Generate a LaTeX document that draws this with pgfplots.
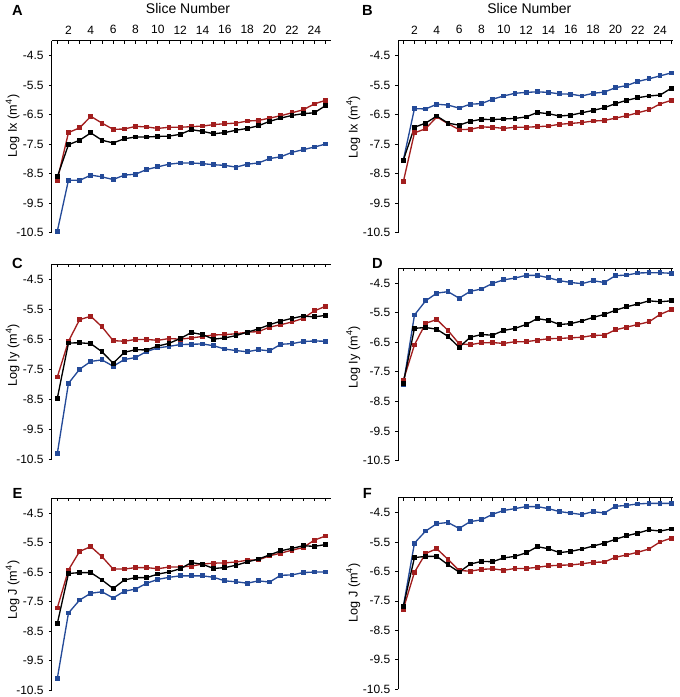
\documentclass[border=0pt]{standalone}
\usepackage{fontspec}
\setmainfont{Liberation Sans}
\usepackage{pgfplots}
\usepackage{pgfplotstable}
\pgfplotsset{compat=1.18}
\definecolor{cred}{RGB}{162,30,30}
\definecolor{cblue}{RGB}{36,74,152}

\pgfplotstableread{
x red black blue
1 -8.72 -8.61 -10.45
2 -7.11 -7.52 -8.72
3 -6.95 -7.37 -8.73
4 -6.56 -7.12 -8.55
5 -6.79 -7.37 -8.61
6 -7.00 -7.46 -8.70
7 -6.99 -7.32 -8.55
8 -6.90 -7.26 -8.52
9 -6.92 -7.26 -8.36
10 -6.97 -7.24 -8.27
11 -6.93 -7.23 -8.18
12 -6.93 -7.17 -8.14
13 -6.91 -7.01 -8.14
14 -6.89 -7.07 -8.16
15 -6.84 -7.15 -8.20
16 -6.81 -7.11 -8.22
17 -6.79 -7.03 -8.28
18 -6.72 -6.97 -8.18
19 -6.70 -6.88 -8.14
20 -6.62 -6.73 -7.99
21 -6.54 -6.62 -7.93
22 -6.44 -6.53 -7.78
23 -6.34 -6.47 -7.69
24 -6.14 -6.44 -7.60
25 -6.02 -6.20 -7.50
}\dataA
\pgfplotstableread{
x red black blue
1 -8.78 -8.05 -8.05
2 -7.12 -6.93 -6.30
3 -6.98 -6.79 -6.31
4 -6.58 -6.55 -6.15
5 -6.81 -6.79 -6.18
6 -7.01 -6.86 -6.28
7 -7.00 -6.73 -6.15
8 -6.92 -6.66 -6.13
9 -6.93 -6.67 -5.98
10 -6.97 -6.65 -5.87
11 -6.93 -6.63 -5.78
12 -6.93 -6.58 -5.75
13 -6.91 -6.43 -5.73
14 -6.89 -6.47 -5.75
15 -6.83 -6.55 -5.80
16 -6.80 -6.52 -5.81
17 -6.77 -6.44 -5.87
18 -6.72 -6.36 -5.78
19 -6.70 -6.27 -5.74
20 -6.62 -6.13 -5.59
21 -6.54 -6.02 -5.52
22 -6.44 -5.93 -5.38
23 -6.34 -5.87 -5.29
24 -6.14 -5.84 -5.19
25 -6.02 -5.61 -5.09
}\dataB
\pgfplotstableread{
x red black blue
1 -7.75 -8.46 -10.30
2 -6.56 -6.62 -7.96
3 -5.84 -6.61 -7.49
4 -5.73 -6.64 -7.23
5 -6.08 -6.91 -7.18
6 -6.54 -7.29 -7.39
7 -6.56 -6.93 -7.17
8 -6.50 -6.84 -7.10
9 -6.50 -6.85 -6.90
10 -6.53 -6.72 -6.78
11 -6.47 -6.63 -6.73
12 -6.49 -6.47 -6.67
13 -6.45 -6.27 -6.66
14 -6.40 -6.34 -6.65
15 -6.35 -6.49 -6.71
16 -6.34 -6.45 -6.82
17 -6.31 -6.37 -6.87
18 -6.26 -6.26 -6.91
19 -6.24 -6.15 -6.84
20 -6.09 -6.01 -6.88
21 -6.01 -5.89 -6.66
22 -5.92 -5.80 -6.64
23 -5.80 -5.72 -6.57
24 -5.55 -5.75 -6.55
25 -5.40 -5.70 -6.56
}\dataC
\pgfplotstableread{
x red black blue
1 -7.79 -7.88 -7.94
2 -6.59 -6.03 -5.58
3 -5.86 -6.00 -5.10
4 -5.73 -6.06 -4.84
5 -6.10 -6.30 -4.79
6 -6.55 -6.67 -5.01
7 -6.58 -6.33 -4.78
8 -6.52 -6.24 -4.70
9 -6.51 -6.26 -4.51
10 -6.54 -6.10 -4.39
11 -6.48 -6.03 -4.33
12 -6.48 -5.90 -4.24
13 -6.43 -5.70 -4.24
14 -6.38 -5.76 -4.32
15 -6.37 -5.90 -4.42
16 -6.35 -5.87 -4.48
17 -6.33 -5.78 -4.52
18 -6.27 -5.66 -4.42
19 -6.26 -5.56 -4.48
20 -6.08 -5.42 -4.25
21 -5.99 -5.30 -4.23
22 -5.90 -5.21 -4.16
23 -5.81 -5.10 -4.15
24 -5.56 -5.13 -4.15
25 -5.40 -5.10 -4.17
}\dataD
\pgfplotstableread{
x red black blue
1 -7.72 -8.25 -10.11
2 -6.43 -6.55 -7.89
3 -5.80 -6.52 -7.45
4 -5.64 -6.52 -7.22
5 -5.98 -6.77 -7.17
6 -6.40 -7.06 -7.38
7 -6.40 -6.77 -7.15
8 -6.35 -6.69 -7.08
9 -6.35 -6.69 -6.88
10 -6.39 -6.57 -6.75
11 -6.33 -6.50 -6.68
12 -6.33 -6.39 -6.63
13 -6.30 -6.18 -6.63
14 -6.23 -6.24 -6.63
15 -6.20 -6.38 -6.68
16 -6.19 -6.35 -6.80
17 -6.16 -6.27 -6.83
18 -6.10 -6.16 -6.88
19 -6.09 -6.06 -6.80
20 -5.95 -5.92 -6.84
21 -5.86 -5.78 -6.61
22 -5.76 -5.70 -6.60
23 -5.67 -5.61 -6.52
24 -5.42 -5.63 -6.50
25 -5.28 -5.57 -6.50
}\dataE
\pgfplotstableread{
x red black blue
1 -7.78 -7.69 -7.70
2 -6.53 -6.03 -5.54
3 -5.89 -5.99 -5.13
4 -5.73 -5.99 -4.88
5 -6.09 -6.27 -4.84
6 -6.47 -6.52 -5.04
7 -6.49 -6.25 -4.81
8 -6.43 -6.16 -4.75
9 -6.41 -6.17 -4.56
10 -6.46 -6.04 -4.43
11 -6.40 -5.99 -4.37
12 -6.40 -5.87 -4.30
13 -6.36 -5.66 -4.30
14 -6.31 -5.73 -4.37
15 -6.29 -5.86 -4.47
16 -6.28 -5.82 -4.52
17 -6.24 -5.74 -4.57
18 -6.19 -5.64 -4.47
19 -6.18 -5.54 -4.52
20 -6.02 -5.41 -4.29
21 -5.94 -5.29 -4.26
22 -5.85 -5.20 -4.21
23 -5.74 -5.09 -4.19
24 -5.50 -5.13 -4.19
25 -5.37 -5.06 -4.19
}\dataF

\pgfplotsset{
  panel/.style={
    scale only axis,
    anchor=north west,
    axis x line*=top,
    axis y line*=left,
    ymin=-10.5, ymax=-4.0,
    xtick={2,4,...,24},
    minor xtick={1,3,...,25},
    ytick={-10.5,-9.5,-8.5,-7.5,-6.5,-5.5,-4.5},
    yticklabels={-10.5,-9.5,-8.5,-7.5,-6.5,-5.5,-4.5},
    tick align=inside,
    major tick length=2.2pt,
    minor tick length=2.2pt,
    every tick/.style={black, line width=0.6pt},
    ytick style={xshift=-2.2pt},
    axis line style={black, line width=1.1pt},
    ticklabel style={font=\fontsize{9}{10.5}\selectfont},
    yticklabel style={xshift=-2.5pt},
    xticklabel style={yshift=1.5pt},
    /pgf/number format/assume math mode=true,
    label style={font=\fontsize{9.5}{11}\selectfont},
    clip=false,
  },
  leftp/.style={panel, xmin=0.5, xmax=25.5, width=209.5pt},
  rightp/.style={panel, xmin=0.55, xmax=25.15, width=206pt},
  nolabels/.style={xticklabels={}},
  ser/.style={line width=1pt, mark=square*, mark size=1.3pt, mark options={solid}},
}

\begin{document}
\begin{tikzpicture}
\path[use as bounding box] (0,0) rectangle (510pt,-522.75pt);

% A
\begin{axis}[leftp, at={(38.78pt,-30.53pt)}, height=144pt,
  xticklabels={2,4,6,8,10,12,14,16,18,20,22,24},
  ylabel={Log Ix (m\textsuperscript{4})},
  ylabel style={at={(axis description cs:-0.14,0.556)}, anchor=center}]
\addplot[ser, cblue] table[x=x, y=blue] {\dataA};
\addplot[ser, cred] table[x=x, y=red] {\dataA};
\addplot[ser, black] table[x=x, y=black] {\dataA};
\end{axis}

% B
\begin{axis}[rightp, at={(298.7pt,-30.53pt)}, height=144pt,
  xticklabels={2,4,6,8,10,12,14,16,18,20,22,24},
  ylabel={Log Ix (m\textsuperscript{4})},
  ylabel style={at={(axis description cs:-0.164,0.55)}, anchor=center}]
\addplot[ser, cblue] table[x=x, y=blue] {\dataB};
\addplot[ser, cred] table[x=x, y=red] {\dataB};
\addplot[ser, black] table[x=x, y=black] {\dataB};
\end{axis}

% C
\begin{axis}[leftp, nolabels, at={(38.78pt,-198.2pt)}, height=146.6pt,
  ylabel={Log Iy (m\textsuperscript{4})},
  ylabel style={at={(axis description cs:-0.14,0.534)}, anchor=center}]
\addplot[ser, cblue] table[x=x, y=blue] {\dataC};
\addplot[ser, cred] table[x=x, y=red] {\dataC};
\addplot[ser, black] table[x=x, y=black] {\dataC};
\end{axis}

% D
\begin{axis}[rightp, nolabels, at={(298.7pt,-201.2pt)}, height=144.3pt,
  ylabel={Log Iy (m\textsuperscript{4})},
  ylabel style={at={(axis description cs:-0.164,0.537)}, anchor=center}]
\addplot[ser, cblue] table[x=x, y=blue] {\dataD};
\addplot[ser, cred] table[x=x, y=red] {\dataD};
\addplot[ser, black] table[x=x, y=black] {\dataD};
\end{axis}

% E
\begin{axis}[leftp, nolabels, at={(38.78pt,-373.7pt)}, height=143.8pt,
  ylabel={Log J (m\textsuperscript{4})},
  ylabel style={at={(axis description cs:-0.14,0.52)}, anchor=center}]
\addplot[ser, cblue] table[x=x, y=blue] {\dataE};
\addplot[ser, cred] table[x=x, y=red] {\dataE};
\addplot[ser, black] table[x=x, y=black] {\dataE};
\end{axis}

% F
\begin{axis}[rightp, nolabels, at={(298.7pt,-373.3pt)}, height=143.7pt,
  ylabel={Log J (m\textsuperscript{4})},
  ylabel style={at={(axis description cs:-0.164,0.504)}, anchor=center}]
\addplot[ser, cblue] table[x=x, y=blue] {\dataF};
\addplot[ser, cred] table[x=x, y=red] {\dataF};
\addplot[ser, black] table[x=x, y=black] {\dataF};
\end{axis}

% titles and panel letters
\node[font=\fontsize{10.5}{12}\selectfont] at (141pt,-6.3pt) {Slice Number};
\node[font=\fontsize{10.5}{12}\selectfont] at (397pt,-6.3pt) {Slice Number};
\node[font=\bfseries\fontsize{11}{13}\selectfont] at (13.1pt,-7.5pt) {A};
\node[font=\bfseries\fontsize{11}{13}\selectfont] at (275.6pt,-7.5pt) {B};
\node[font=\bfseries\fontsize{11}{13}\selectfont] at (13.1pt,-197.5pt) {C};
\node[font=\bfseries\fontsize{11}{13}\selectfont] at (283.1pt,-197.5pt) {D};
\node[font=\bfseries\fontsize{11}{13}\selectfont] at (13.1pt,-370pt) {E};
\node[font=\bfseries\fontsize{11}{13}\selectfont] at (275.6pt,-370pt) {F};
\end{tikzpicture}
\end{document}
